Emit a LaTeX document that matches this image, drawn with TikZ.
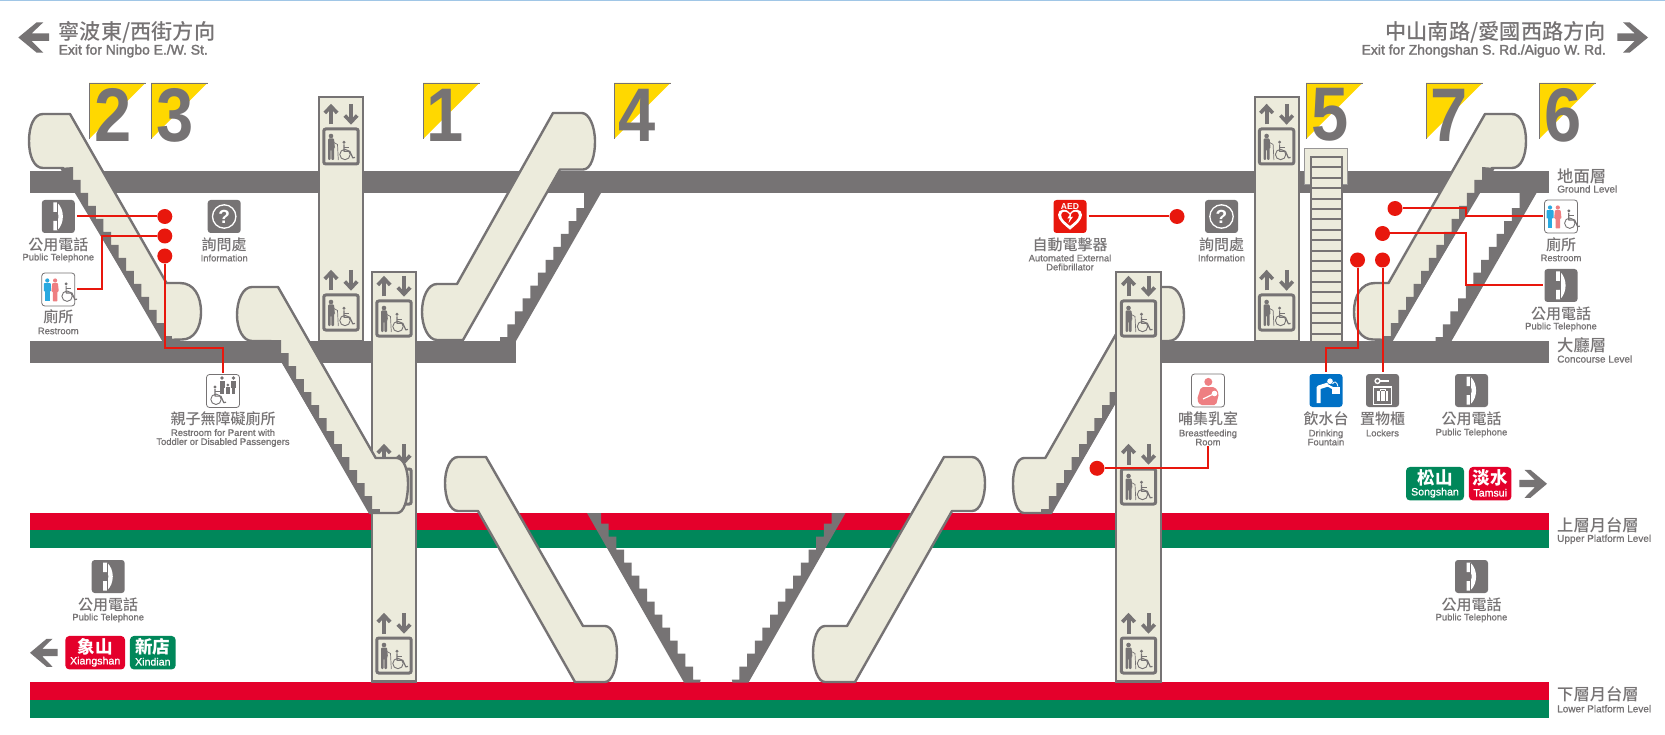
\documentclass[tikz,border=0pt]{standalone}
\usepackage{fontspec}
\setmainfont{Liberation Sans}
\newfontfamily\cjk{Noto Sans CJK TC Medium}
\newfontfamily\cjkw{Noto Sans CJK TC}
\newfontfamily\senb[FakeBold=2]{Liberation Sans}
\newfontfamily\enm[FakeBold=1]{Liberation Sans}
\definecolor{gr}{HTML}{767374}
\definecolor{bg}{HTML}{ECEBDC}
\definecolor{tred}{HTML}{E4002B}
\definecolor{tgreen}{HTML}{00875A}
\definecolor{yel}{HTML}{FFD800}
\definecolor{rl}{HTML}{E8170D}
\definecolor{bluei}{HTML}{0071C5}
\definecolor{pinki}{HTML}{EE7F82}
\definecolor{bluem}{HTML}{29A9E0}
\definecolor{topline}{HTML}{A0C6E6}
\tikzset{
  esc/.style={fill=bg,draw=gr,line width=2.4pt,line join=round},
  lift/.style={fill=bg,draw=gr,line width=2.4pt,line join=miter},
  cjklab/.style={font=\cjk\fontsize{15}{15}\selectfont,text=gr,inner sep=0pt},
  enlab/.style={font=\enm\fontsize{9.4}{9}\selectfont,text=gr,inner sep=0pt,align=center},
  lvc/.style={font=\cjk\fontsize{16.3}{16}\selectfont,text=gr,inner sep=0pt,anchor=west},
  lve/.style={font=\enm\fontsize{10}{10}\selectfont,text=gr,inner sep=0pt,anchor=west},
  iconbox/.style={minimum size=33pt,inner sep=0pt,rounded corners=3pt,outer sep=2pt},
  whitebox/.style={iconbox,fill=white,draw=gr,line width=.8pt},
  greybox/.style={iconbox,fill=gr},
  reddot/.style={circle,fill=rl,minimum size=15pt,inner sep=0pt},
  redline/.style={draw=rl,line width=2pt},
  tagbox/.style={rounded corners=4pt,minimum height=33.5pt,inner sep=0pt},
  tagc/.style={font=\cjkw\bfseries\fontsize{17.5}{17}\selectfont,text=white,inner sep=0pt},
  tage/.style={font=\enm\fontsize{10.6}{10}\selectfont,text=white,inner sep=0pt},
  hdc/.style={font=\cjk\fontsize{21.2}{21}\selectfont,text=gr,inner sep=0pt},
  hde/.style={font=\senb\fontsize{13.9}{14}\selectfont,text=gr,inner sep=0pt},
  digit/.style={font=\bfseries\fontsize{76}{76}\selectfont,text=gr,inner sep=0pt},
  pics/bigarrow/.style={code={
    \fill[gr] (0,0) -- (18.4,-15.2) -- (25,-15.2) -- (13.4,-4.2) -- (30.7,-4.2) -- (30.7,3.5) -- (13.4,3.5) -- (25,15.2) -- (18.4,15.2) -- cycle;}},
  pics/wcsym/.style={code={
    \fill[gr] (-1,-12.3) circle (1.6);
    \draw[gr,line width=1.2pt,line join=round] (-1,-10.2) -- (-1,-3.2) -- (4.8,-3.2) -- (7.8,3.4) -- (10,2.9);
    \draw[gr,line width=.9pt] (-1,-7.4) -- (4,-7.4);
    \draw[gr,line width=.9pt] (0,0) circle (5.2);
  }},
  pics/walker/.style={code={
    \fill[gr] (0,-10.5) circle (2.3);
    \fill[gr,rounded corners=1pt] (-3,-8) -- (3,-8) -- (3.9,1) -- (3,1) -- (3,13.5) -- (.4,13.5) -- (.4,3) -- (-.4,3) -- (-.4,13.5) -- (-3,13.5) -- cycle;
    \draw[gr,line width=.7pt] (3,-4) -- (6.5,-2) -- (7.3,13.5);
  }},
  pics/elevsym/.style={code={
    \draw[gr,line width=4pt] (-10,20.5) -- (-10,3);
    \draw[gr,line width=3.6pt] (-16.2,9) -- (-10,2.4) -- (-3.8,9);
    \draw[gr,line width=4pt] (10,0) -- (10,17.5);
    \draw[gr,line width=3.6pt] (3.8,11.5) -- (10,18.1) -- (16.2,11.5);
    \draw[gr,line width=3pt,rounded corners=2pt] (-17.2,25) rectangle (17.2,60);
    \pic at (-10,42.5) {walker};
    \pic at (4,50.5) {wcsym};
  }},
  pics/phonesym/.style={code={
    \fill[white] (-5,-14) -- (-1.2,-14) .. controls (6.5,-7) and (6.5,7) .. (-1.2,14) -- (-5,14) -- (-5,4.5) -- (-1.2,4.5) .. controls (.7,2) and (.7,-2) .. (-1.2,-4.5) -- (-5,-4.5) -- cycle;
    \draw[gr,line width=.5pt] (-1.1,-14) -- (-1.1,14);
  }},
  pics/infosym/.style={code={\draw[white,line width=1.3pt] (0,0) circle (11.7);}},
  pics/restsym/.style={code={
    \fill[bluem] (-11,-9) circle (2.1);
    \fill[bluem,rounded corners=.7pt] (-14.5,-6.3) rectangle (-7.5,2);
    \fill[bluem] (-13.2,0) rectangle (-8.8,12);
    \fill[pinki] (-3.2,-9) circle (2.1);
    \fill[pinki,rounded corners=.7pt] (-6,-6.3) -- (-.4,-6.3) -- (.5,2) -- (-1,2) -- (-1,12) -- (-5.4,12) -- (-5.4,2) -- (-6.9,2) -- cycle;
    \begin{scope}[shift={(8.8,6.7)},scale=.82]\pic {wcsym};\end{scope}
  }},
  pics/parentsym/.style={code={
    \fill[gr] (-1,-13) circle (1.9);
    \fill[gr] (-3.5,-10.5) rectangle (1.5,-3);
    \fill[gr] (-2.7,-4) rectangle (.7,2.5);
    \fill[gr] (10.5,-13) circle (1.9);
    \fill[gr] (8,-10.5) rectangle (13,-3);
    \fill[gr] (8.8,-4) rectangle (12.2,2.5);
    \fill[gr] (4.9,-6) circle (1.5);
    \fill[gr] (3,-4) rectangle (6.8,2.5);
    \begin{scope}[shift={(-7,8.3)},scale=1.02]\pic {wcsym};\end{scope}
  }},
  pics/feedsym/.style={code={
    \fill[pinki] (.3,-8.6) circle (4);
    \fill[pinki,rounded corners=2pt] (-7,-3.5) -- (7,-3.5) -- (11,3) -- (8,14.7) -- (-8,14.7) -- (-11,9) -- cycle;
    \draw[white,line width=1.2pt] (-5,8.5) -- (6.5,3);
    \fill[white] (6.5,3) circle (2.8);
  }},
  pics/drinksym/.style={code={
    \fill[white] (4,-9.3) circle (2.8);
    \draw[white,line width=4pt,line join=round] (-7.5,12.5) -- (-7.5,-3) -- (2,-6);
    \draw[white,line width=2.2pt] (1,-5.5) -- (6.5,-2.5);
    \fill[white] (5.5,-3.5) rectangle (14,3);
    \fill[bluei] (9.5,-7) circle (.8);
    \draw[white,line width=.8pt] (6.5,-6.5) .. controls (8,-10) and (11,-9) .. (12,-4);
  }},
  pics/lockersym/.style={code={
    \draw[white,line width=1.4pt] (-5,-9.5) circle (2.4);
    \draw[white,line width=1.8pt] (-2.5,-9.5) -- (6.5,-9.5);
    \draw[white,line width=1.2pt] (-9.3,-3.5) rectangle (9.3,14);
    \fill[white] (-5.5,.7) rectangle (5.5,10.5);
    \draw[white,line width=.8pt] (-2.5,.7) -- (-2.5,-1.2) -- (2.5,-1.2) -- (2.5,.7);
    \draw[gr,line width=.6pt] (-2.7,.7) -- (-2.7,10.5) (2.7,.7) -- (2.7,10.5);
  }},
  pics/aedsym/.style={code={
    \node[font=\bfseries\fontsize{8.6}{8}\selectfont,text=white,inner sep=0pt] (t) at (0,-10) {AED};
    \fill[white] (0,13.2) .. controls (-7,7.5) and (-12,3) .. (-12,-1.7) .. controls (-12,-8) and (-3,-8.5) .. (0,-3.5) .. controls (3,-8.5) and (12,-8) .. (12,-1.7) .. controls (12,3) and (7,7.5) .. (0,13.2) -- cycle;
    \fill[rl] (0,9.3) .. controls (-5,5.3) and (-8.8,2.3) .. (-8.8,-1.5) .. controls (-8.8,-5.8) and (-2.5,-6) .. (0,-1.2) .. controls (2.5,-6) and (8.8,-5.8) .. (8.8,-1.5) .. controls (8.8,2.3) and (5,5.3) .. (0,9.3) -- cycle;
    \fill[white] (1.7,-4.5) -- (-2.7,2) -- (-.2,1.6) -- (-1.5,6.7) -- (3,.2) -- (.5,.5) -- cycle;
  }},
}
% stairs: start path, dx, dy, n, end path
\newcommand\stairpoly[5]{\fill[gr] #1 \foreach \i in {1,...,#4} {-- ++(#2,0) -- ++(0,#3)} #5;}
\newcommand\escA{%
  \path[esc] (70,114) -- (166.5,283) -- (180,283) .. controls (194,283) and (201,296) .. (201,312) .. controls (201,328) and (194,339.5) .. (182,339.5) -- (163,340) -- (63,168) -- (43,168) .. controls (34,168) and (29,156) .. (29,141) .. controls (29,126) and (34,114) .. (43,114) -- cycle;
  \stairpoly{(60,168) -- (73,167) -- (73,180)}{7.6}{13}{12}{-- ++(7.6,0) -- ++(0,4.2) -- (163,340.5) -- cycle}}
\newcommand\escB{%
  \path[esc] (278,287) -- (375.7,458) -- (396.7,458) .. controls (404,458) and (408,470) .. (408,483) .. controls (408,500) and (404,513) .. (397,513) -- (370,513) -- (271,341) -- (252,341) .. controls (243,341) and (237,329) .. (237,315) .. controls (237,300) and (243,287) .. (252,287) -- cycle;
  \stairpoly{(268.4,340) -- (281,340) -- (281,353)}{7.6}{13}{12}{-- ++(7.6,0) -- ++(0,4.2) -- (370,513.5) -- cycle}}
\newcommand\escD{%
  \path[esc] (486,457) -- (583,626) -- (605,626) .. controls (612,626) and (617,638) .. (617,653) .. controls (617,668) and (612,682) .. (605,682) -- (575,682) -- (478,511) -- (458,511) .. controls (450,511) and (445,498) .. (445,483) .. controls (445,470) and (450,457) .. (458,457) -- cycle;}
\newcommand\stairFix{%
  \stairpoly{(601,193) -- (584,193) -- (584,208.2)}{-7.67}{12.9}{9}{-- (507.3,324.3) -- (507.3,337) -- (500,337) -- (500,341) -- (516,341) -- cycle}}
\newcommand\stairV{%
  \stairpoly{(587,513) -- (601,513) -- (601,523.5)}{7.67}{13}{12}{-- ++(7.67,0) -- (700,682.5) -- (684,682.5) -- cycle}}
\newcommand\numtag[4]{%
  \fill[yel] (#2,83) -- (#2+56.5,83) -- (#2,139) -- cycle;
  \draw[gr,line width=.7pt] (#2,139) -- (#2,83) -- (#2+56.5,83);
  \node[digit] (#1) at (#4,115) {\scalebox{.88}[1]{#3}};}
\newcommand\poi[6]{%
  \node[cjklab] (#1c) at (#2,#3) {#5};
  \node[enlab] (#1e) at (#2,#4) {#6};}
\begin{document}
\begin{tikzpicture}[x=1pt,y=-1pt]
\useasboundingbox (0,0) rectangle (1665,735);
\fill[white] (0,0) rectangle (1665,735);
\fill[topline] (0,0) rectangle (1665,1);
% bands
\fill[gr] (30,171) rectangle (1549,192.7);
\fill[gr] (30,341) rectangle (516,362.7);
\fill[gr] (1161,341) rectangle (1549,362.7);
\fill[tred] (30,512.7) rectangle (1549,530.3);
\fill[tgreen] (30,530.3) rectangle (1549,548);
\fill[tred] (30,682.3) rectangle (1549,700);
\fill[tgreen] (30,700) rectangle (1549,717.7);
% number tags
\numtag{n2}{89}{2}{113.5}
\numtag{n3}{151}{3}{175}
\numtag{n1}{423}{1}{445}
\numtag{n4}{614}{4}{637.5}
\numtag{n5}{1306}{5}{1330}
\numtag{n7}{1426}{7}{1449}
\numtag{n6}{1539}{6}{1563}
% elevators upper
\path[lift] (319.2,97.2) rectangle (362.8,341.5);
\pic at (341,104) {elevsym};
\pic at (341,270) {elevsym};
\path[lift] (1254.8,97.2) rectangle (1298.8,341.5);
\pic at (1276.6,104) {elevsym};
\pic at (1276.6,270) {elevsym};
% straight stair
\path[fill=bg,draw=gr!75,line width=1pt] (1304.8,148.5) rectangle (1347,185);
\path[fill=bg,draw=gr,line width=2.2pt] (1310.6,157) rectangle (1341.6,342);
\foreach \k in {1,...,17} \draw[gr,line width=2pt] (1310.6,157+10.4*\k) -- (1341.6,157+10.4*\k);
% long elevators
\path[lift] (372.2,271.8) rectangle (415.8,681.6);
\pic at (394,276) {elevsym};
\pic at (394,444) {elevsym};
\pic at (394,613) {elevsym};
% escalators
\escA
\escB
\path[esc] (553,113) -- (581.7,113) .. controls (589,113) and (595,126) .. (595,141.7) .. controls (595,156) and (591,169.5) .. (583,169.5) -- (560,169.5) -- (463,340) -- (437,340) .. controls (428,340) and (422,326) .. (422,312) .. controls (422,297) and (428,284) .. (437,284) -- (457,284) -- cycle;
\stairFix
\begin{scope}[shift={(935.5,0)}]\stairFix\end{scope}
\escD
\begin{scope}[shift={(1430,0)},xscale=-1]\escD\end{scope}
\stairV
\begin{scope}[shift={(1432.5,0)},xscale=-1]\stairV\end{scope}
\begin{scope}[shift={(1421,0)},xscale=-1]\escB\end{scope}
\begin{scope}[shift={(1555,0)},xscale=-1]\escA\end{scope}
\path[lift] (1116.2,271.8) rectangle (1160.8,681.6);
\pic at (1138.5,276) {elevsym};
\pic at (1138.5,444) {elevsym};
\pic at (1138.5,613) {elevsym};
% header
\pic at (18.3,37.5) {bigarrow};
\node[hdc,anchor=west] (hl1) at (58.5,32) {寧波東/西街方向};
\node[hde,anchor=west] (hl2) at (58.5,51) {Exit for Ningbo E./W. St.};
\pic[xscale=-1] at (1648,37.5) {bigarrow};
\node[hdc,anchor=east] (hr1) at (1606,32) {中山南路/愛國西路方向};
\node[hde,anchor=east] (hr2) at (1606,51) {Exit for Zhongshan S. Rd./Aiguo W. Rd.};
% level labels
\node[lvc] (l1c) at (1557,176) {地面層};
\node[lve] (l1e) at (1557,189) {Ground Level};
\node[lvc] (l2c) at (1557,345) {大廳層};
\node[lve] (l2e) at (1557,359) {Concourse Level};
\node[lvc] (l3c) at (1557,525) {上層月台層};
\node[lve] (l3e) at (1557,539.3) {Upper Platform Level};
\node[lvc] (l4c) at (1557,694) {下層月台層};
\node[lve] (l4e) at (1557,708.7) {Lower Platform Level};
% icons
\node[greybox] (phoneA) at (58.3,216.5) {};
\pic at (phoneA) {phonesym};
\poi{phoneA}{58.3}{245}{258}{公用電話}{Public Telephone}
\node[whitebox] (restA) at (58.3,289.5) {};
\pic at (restA) {restsym};
\poi{restA}{58.3}{317}{331}{廁所}{Restroom}
\node[greybox,text=white,font=\bfseries\fontsize{19}{19}\selectfont] (infoA) at (224.2,216.5) {?};
\pic at (infoA) {infosym};
\poi{infoA}{224.2}{245}{258}{詢問處}{Information}
\node[whitebox] (parent) at (223,391) {};
\pic at (parent) {parentsym};
\poi{parent}{223}{419}{438}{親子無障礙廁所}{Restroom for Parent with\\Toddler or Disabled Passengers}
\node[iconbox,fill=rl] (aed) at (1070,216.5) {};
\pic (aedicon) at (aed) {aedsym};
\poi{aed}{1070}{245}{262.5}{自動電擊器}{Automated External\\Defibrillator}
\node[greybox,text=white,font=\bfseries\fontsize{19}{19}\selectfont] (infoB) at (1221.5,216.5) {?};
\pic at (infoB) {infosym};
\poi{infoB}{1221.5}{245}{258}{詢問處}{Information}
\node[whitebox] (restB) at (1561,216.5) {};
\pic at (restB) {restsym};
\poi{restB}{1561}{245}{258}{廁所}{Restroom}
\node[greybox] (phoneB) at (1561,285.5) {};
\pic at (phoneB) {phonesym};
\poi{phoneB}{1561}{314}{327}{公用電話}{Public Telephone}
\node[whitebox] (feed) at (1208,390.5) {};
\pic at (feed) {feedsym};
\poi{feed}{1208}{419}{437.5}{哺集乳室}{Breastfeeding\\Room}
\node[iconbox,fill=bluei] (drink) at (1326,390.5) {};
\pic at (drink) {drinksym};
\poi{drink}{1326}{419}{437.5}{飲水台}{Drinking\\Fountain}
\node[greybox] (locker) at (1382.5,390.5) {};
\pic at (locker) {lockersym};
\poi{locker}{1382.5}{419}{433}{置物櫃}{Lockers}
\node[greybox] (phoneC) at (1471.5,390.5) {};
\pic at (phoneC) {phonesym};
\poi{phoneC}{1471.5}{419}{433}{公用電話}{Public Telephone}
\node[greybox] (phoneD) at (1471.5,576.5) {};
\pic at (phoneD) {phonesym};
\poi{phoneD}{1471.5}{605}{618}{公用電話}{Public Telephone}
\node[greybox] (phoneE) at (108.2,576.5) {};
\pic at (phoneE) {phonesym};
\poi{phoneE}{108.2}{605}{618}{公用電話}{Public Telephone}
% direction tags
\node[tagbox,fill=tgreen,minimum width=58pt] (song) at (1435,483.7) {};
\node[tagc] (songc) at (1435,478) {松山};
\node[tage] (songe) at (1435,492.7) {Songshan};
\node[tagbox,fill=tred,minimum width=42.5pt] (tams) at (1490.2,483.7) {};
\node[tagc] (tamsc) at (1490.2,478) {淡水};
\node[tage] (tamse) at (1490.2,492.7) {Tamsui};
\pic[xscale=-.9,yscale=.92] at (1547,483.8) {bigarrow};
\pic[xscale=.9,yscale=.92] at (30,652.8) {bigarrow};
\node[tagbox,fill=tred,minimum width=59.7pt] (xiang) at (95.2,652.7) {};
\node[tagc] (xiangc) at (95.2,647) {象山};
\node[tage] (xiange) at (95.2,661.7) {Xiangshan};
\node[tagbox,fill=tgreen,minimum width=45.7pt] (xin) at (152.8,652.7) {};
\node[tagc] (xinc) at (152.8,647) {新店};
\node[tage] (xine) at (152.8,661.7) {Xindian};
% red connectors
\node[reddot] (d1) at (164.8,216.5) {};
\node[reddot] (d2) at (164.8,236) {};
\node[reddot] (d3) at (164.8,256) {};
\node[reddot] (d4) at (1395,208.5) {};
\node[reddot] (d5) at (1382.5,233.5) {};
\node[reddot] (d6) at (1357.5,260) {};
\node[reddot] (d7) at (1382.5,260) {};
\node[reddot] (d8) at (1177,216.5) {};
\node[reddot] (d9) at (1097,468.3) {};
\coordinate (e1) at (101.5,236);
\coordinate (e2) at (164.8,347.5);
\coordinate (e3) at (1465.6,208.5);
\coordinate (e4) at (1465.6,233.5);
\coordinate (e5) at (1357.5,347.7);
\draw[redline] (phoneA) -- (d1);
\draw[redline] (restA.east) -| (e1) -- (d2);
\draw[redline] (d3) -- (e2) -| (parent.north);
\draw[redline] (restB.west) -| (e3) -- (d4);
\draw[redline] (phoneB.west) -| (e4) -- (d5);
\draw[redline] (d6) -- (e5) -| (drink.north);
\draw[redline] (d7) -- (locker.north);
\draw[redline] (aed) -- (d8);
\draw[redline] (feede.south) |- (d9);
\end{tikzpicture}
\end{document}
